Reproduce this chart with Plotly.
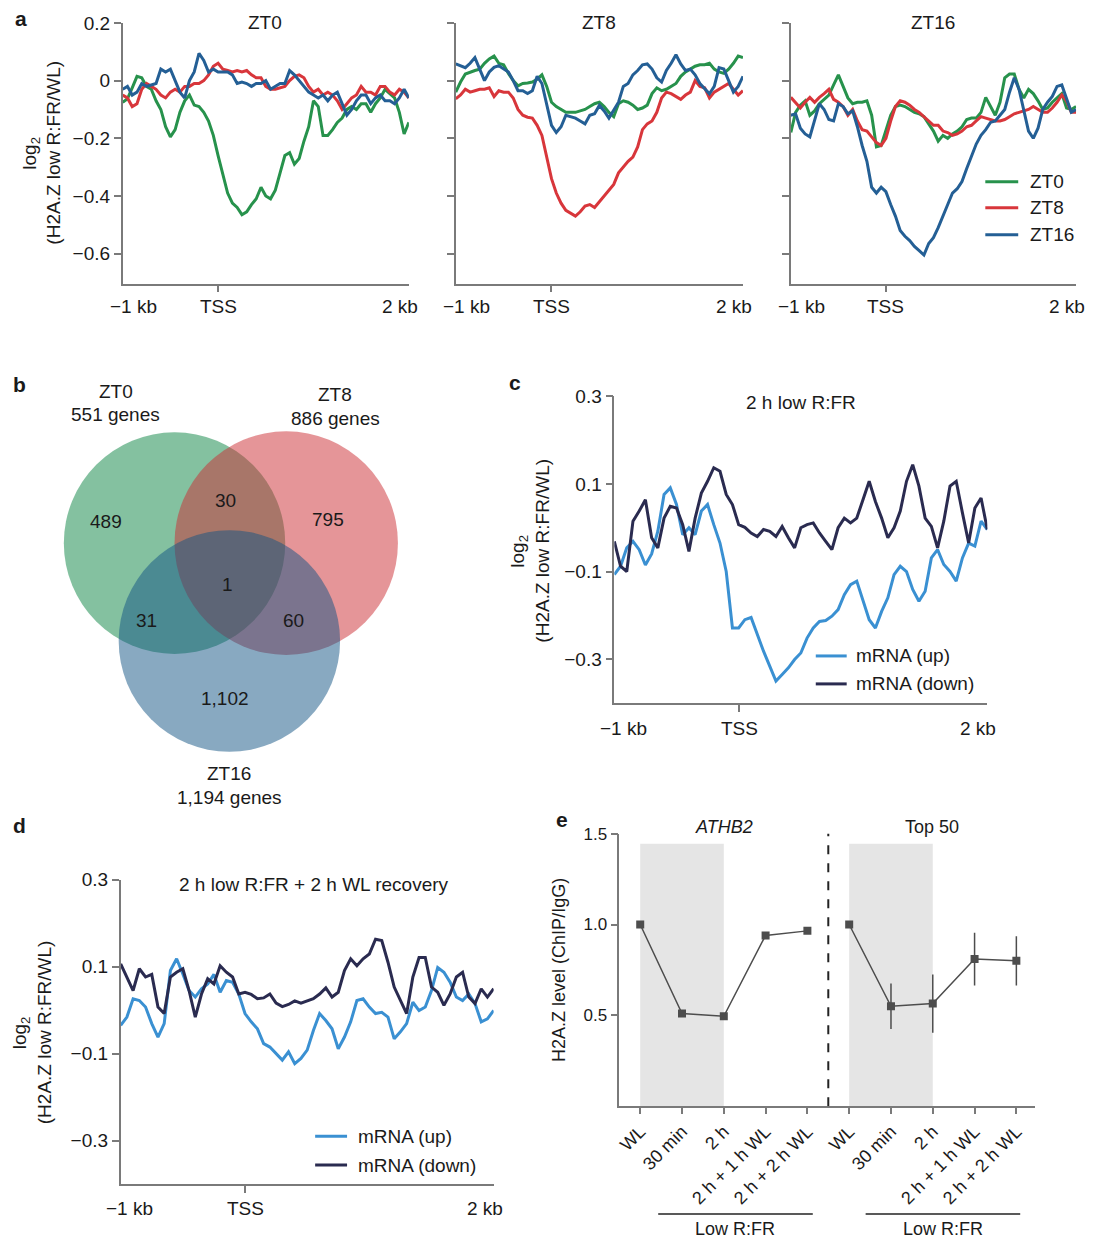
import numpy as np
import plotly.graph_objects as go

W, H = 1098, 1241
# vertical placement calibrated against the rendered page (top offset ~8 px)
def fx(p): return p / W
def fy(p): return 1 - (p - 8) / 1233

FONT = "Liberation Sans, Arial, Helvetica, sans-serif"
AX = "#7a7a7a"
TXT = "#1a1a1a"

# ---------------- data ----------------
pos_kb = np.round(np.linspace(-1.0, 2.0, 61), 3)   # profile bins, -1 kb .. 2 kb

# panel a, ZT0 gene set
a0_zt0 = [-0.075,-0.063,-0.025,0.015,0.01,-0.02,-0.03,-0.07,-0.10,-0.16,-0.195,-0.17,-0.11,-0.07,-0.05,-0.085,-0.09,-0.11,-0.14,-0.19,
          -0.26,-0.33,-0.39,-0.425,-0.44,-0.465,-0.455,-0.43,-0.41,-0.37,-0.40,-0.41,-0.38,-0.32,-0.26,-0.25,-0.29,-0.27,-0.21,-0.16,
          -0.07,-0.09,-0.19,-0.19,-0.17,-0.145,-0.13,-0.10,-0.09,-0.10,-0.08,-0.08,-0.11,-0.08,-0.06,-0.03,-0.045,-0.06,-0.11,-0.185,-0.145]
a0_zt8 = [-0.05,-0.06,-0.09,-0.08,-0.03,-0.01,-0.02,-0.03,-0.05,-0.06,-0.04,-0.03,-0.04,-0.02,-0.02,-0.01,-0.01,0.0,0.02,0.05,
          0.06,0.04,0.035,0.03,0.035,0.03,0.035,0.02,0.01,0.01,-0.02,-0.03,-0.03,-0.025,-0.02,0.0,0.015,0.02,0.01,-0.02,
          -0.04,-0.03,-0.05,-0.04,-0.05,-0.07,-0.1,-0.08,-0.06,-0.05,-0.02,-0.04,-0.04,-0.05,-0.02,-0.02,-0.04,-0.05,-0.03,-0.04,-0.06]
a0_zt16 = [-0.03,-0.02,-0.05,-0.04,-0.01,-0.02,-0.015,-0.01,0.04,0.03,0.04,0.0,-0.04,-0.06,0.0,0.03,0.095,0.07,0.03,0.04,
           0.03,0.03,0.03,0.02,-0.01,-0.005,-0.01,-0.02,-0.01,-0.01,0.0,-0.03,-0.02,-0.01,-0.01,0.035,0.02,0.0,-0.02,-0.04,
           -0.05,-0.06,-0.05,-0.07,-0.05,-0.04,-0.08,-0.12,-0.10,-0.07,-0.05,-0.05,-0.08,-0.06,-0.05,-0.07,-0.07,-0.08,-0.06,-0.03,-0.06]

# panel a, ZT8 gene set
a8_zt0 = [-0.04,-0.005,0.023,0.03,0.035,0.04,0.06,0.075,0.085,0.06,0.055,0.025,0.0,-0.018,-0.01,-0.008,-0.005,0.005,0.02,-0.02,
          -0.075,-0.09,-0.10,-0.11,-0.11,-0.11,-0.105,-0.10,-0.09,-0.08,-0.075,-0.09,-0.11,-0.125,-0.08,-0.07,-0.075,-0.085,-0.1,-0.095,
          -0.085,-0.045,-0.025,-0.035,-0.03,-0.02,-0.01,0.015,0.03,0.04,0.05,0.055,0.055,0.06,0.04,0.03,0.025,0.04,0.06,0.085,0.08]
a8_zt8 = [-0.063,-0.05,-0.03,-0.04,-0.035,-0.03,-0.03,-0.025,-0.055,-0.035,-0.04,-0.04,-0.06,-0.10,-0.12,-0.127,-0.13,-0.155,-0.19,-0.26,
          -0.34,-0.39,-0.425,-0.45,-0.46,-0.47,-0.455,-0.435,-0.43,-0.44,-0.42,-0.40,-0.38,-0.36,-0.32,-0.30,-0.28,-0.265,-0.23,-0.17,
          -0.15,-0.14,-0.11,-0.06,-0.04,-0.045,-0.055,-0.065,-0.05,-0.04,0.0,-0.02,-0.025,-0.06,-0.04,-0.03,-0.02,-0.01,-0.03,-0.05,-0.035]
a8_zt16 = [0.058,0.052,0.045,0.06,0.08,0.04,0.0,0.03,0.046,0.052,0.04,0.03,0.0,-0.035,-0.035,-0.045,-0.035,0.015,-0.01,-0.08,
           -0.155,-0.18,-0.16,-0.12,-0.125,-0.13,-0.14,-0.15,-0.12,-0.115,-0.086,-0.105,-0.13,-0.1,-0.075,-0.02,-0.01,0.02,0.035,0.055,
           0.058,0.04,0.01,-0.005,0.035,0.06,0.09,0.058,0.035,0.04,0.02,-0.01,-0.03,-0.046,-0.02,0.045,0.04,0.0,-0.04,-0.02,0.015]

# panel a, ZT16 gene set
a16_zt0 = [-0.18,-0.11,-0.085,-0.07,-0.12,-0.105,-0.08,-0.065,-0.05,-0.015,0.02,-0.02,-0.06,-0.08,-0.075,-0.075,-0.07,-0.12,-0.23,-0.225,
           -0.17,-0.12,-0.09,-0.085,-0.09,-0.1,-0.11,-0.115,-0.125,-0.15,-0.175,-0.21,-0.19,-0.2,-0.185,-0.175,-0.16,-0.135,-0.13,-0.13,
           -0.11,-0.058,-0.09,-0.12,-0.075,0.01,0.023,0.023,-0.03,-0.06,-0.03,-0.045,-0.07,-0.1,-0.095,-0.075,-0.06,-0.045,-0.095,-0.1,-0.09]
a16_zt8 = [-0.058,-0.075,-0.095,-0.075,-0.058,-0.075,-0.058,-0.045,-0.03,-0.065,-0.075,-0.09,-0.12,-0.1,-0.14,-0.17,-0.175,-0.195,-0.215,-0.225,
           -0.2,-0.14,-0.09,-0.07,-0.075,-0.085,-0.1,-0.11,-0.125,-0.14,-0.155,-0.155,-0.175,-0.18,-0.19,-0.185,-0.175,-0.16,-0.155,-0.14,
           -0.125,-0.13,-0.135,-0.14,-0.14,-0.135,-0.125,-0.115,-0.11,-0.105,-0.1,-0.09,-0.1,-0.11,-0.11,-0.095,-0.075,-0.05,-0.07,-0.11,-0.11]
a16_zt16 = [-0.12,-0.115,-0.165,-0.185,-0.195,-0.14,-0.08,-0.1,-0.135,-0.14,-0.08,-0.09,-0.115,-0.105,-0.16,-0.225,-0.28,-0.37,-0.39,-0.37,
            -0.385,-0.43,-0.47,-0.52,-0.54,-0.555,-0.575,-0.59,-0.605,-0.565,-0.545,-0.51,-0.47,-0.425,-0.39,-0.375,-0.35,-0.305,-0.26,-0.22,
            -0.19,-0.17,-0.145,-0.14,-0.12,-0.1,-0.04,0.01,-0.03,-0.1,-0.175,-0.2,-0.165,-0.1,-0.075,-0.055,-0.02,-0.015,-0.065,-0.11,-0.1]

# panel c (2 h low R:FR)
c_up = [-0.107,-0.088,-0.046,-0.031,-0.05,-0.085,-0.06,-0.008,0.076,0.091,0.053,-0.016,0.0,-0.016,0.038,0.053,0.007,-0.035,-0.1,-0.229,
        -0.229,-0.21,-0.205,-0.244,-0.282,-0.316,-0.35,-0.335,-0.32,-0.301,-0.286,-0.252,-0.229,-0.214,-0.212,-0.202,-0.187,-0.153,-0.13,-0.122,
        -0.168,-0.21,-0.229,-0.191,-0.16,-0.107,-0.088,-0.1,-0.141,-0.168,-0.145,-0.069,-0.05,-0.084,-0.1,-0.122,-0.069,-0.035,-0.042,0.015,-0.004]
c_down = [-0.031,-0.088,-0.1,0.015,0.038,0.064,-0.023,-0.046,0.022,0.049,0.045,0.007,-0.054,0.022,0.079,0.106,0.137,0.129,0.076,0.053,
          0.007,0.001,-0.012,-0.02,-0.004,-0.008,-0.02,0.003,-0.023,-0.046,0.0,0.007,0.011,-0.012,-0.031,-0.05,0.0,0.022,0.011,0.022,
          0.064,0.106,0.06,0.022,-0.023,0.0,0.038,0.106,0.144,0.095,0.022,0.003,-0.046,0.015,0.095,0.106,0.034,-0.035,0.045,0.068,-0.004]

# panel d (2 h low R:FR + 2 h WL recovery)
d_up = [-0.035,-0.016,0.026,0.022,0.007,-0.031,-0.062,-0.031,0.091,0.118,0.083,0.045,0.03,0.049,0.06,0.082,0.041,0.068,0.064,0.037,
        -0.008,-0.027,-0.043,-0.077,-0.085,-0.1,-0.115,-0.096,-0.123,-0.111,-0.092,-0.047,-0.008,-0.024,-0.043,-0.089,-0.062,-0.027,0.022,0.026,
        0.007,-0.008,-0.005,-0.016,-0.066,-0.05,-0.031,0.018,-0.001,0.007,0.045,0.098,0.087,0.064,0.03,0.022,0.037,0.015,-0.027,-0.02,-0.001]
d_down = [0.106,0.076,0.045,0.095,0.076,0.082,0.007,-0.008,0.076,0.087,0.095,0.045,-0.016,0.037,0.072,0.06,0.102,0.087,0.076,0.037,
          0.041,0.036,0.026,0.028,0.037,0.016,0.008,0.013,0.021,0.016,0.021,0.026,0.037,0.051,0.03,0.041,0.091,0.118,0.102,0.118,
          0.129,0.163,0.16,0.11,0.053,0.022,-0.008,0.076,0.121,0.121,0.053,0.041,0.011,0.037,0.076,0.087,0.03,0.015,0.049,0.03,0.049]

# panel b (Venn)
venn_names = ["ZT0", "ZT8", "ZT16"]
venn_totals = [551, 886, 1194]
venn_only = [489, 795, 1102]          # ZT0 only, ZT8 only, ZT16 only
venn_pairs = [30, 31, 60]             # ZT0&ZT8, ZT0&ZT16, ZT8&ZT16
venn_all = 1

# panel e
e_labels = ["WL", "30 min", "2 h", "2 h + 1 h WL", "2 h + 2 h WL"]
athb2 = [1.0, 0.51, 0.495, 0.94, 0.965]
top50 = [1.0, 0.55, 0.565, 0.81, 0.80]
top50_err = [0.0, 0.125, 0.16, 0.145, 0.135]

# ---------------- styles ----------------
C_ZT0 = "#27924c"
C_ZT8 = "#d8363b"
C_ZT16 = "#245f95"
C_UP = "#3a90d2"
C_DOWN = "#2a2b50"
FS = 19

fig = go.Figure()

def ax(size=FS, **kw):
    d = dict(showline=True, linecolor=AX, linewidth=1.5, ticks="outside", tickcolor=AX,
             tickwidth=1.5, ticklen=7, showgrid=False, zeroline=False,
             tickfont=dict(size=size, color=TXT, family=FONT))
    d.update(kw)
    return d

layout = dict(width=W, height=H, margin=dict(l=0, r=0, t=0, b=0),
              paper_bgcolor="white", plot_bgcolor="white", showlegend=False,
              font=dict(family=FONT, color=TXT, size=FS))

# panel a axes
a_left = [120, 454, 790]
a_right = [407, 742, 1076]
a_top, a_bot = 21, 282
a_yvals = [-0.6, -0.4, -0.2, 0, 0.2]
a_ytext = ["\u22120.6", "\u22120.4", "\u22120.2", "0", "0.2"]
for i in range(3):
    n = "" if i == 0 else str(i + 1)
    layout["xaxis" + n] = ax(domain=[fx(a_left[i]), fx(a_right[i])], range=[-1, 2], anchor="y" + n,
                             tickvals=[0], showticklabels=False)
    layout["yaxis" + n] = ax(domain=[fy(a_bot), fy(a_top)], range=[-0.704, 0.2], anchor="x" + n,
                             tickvals=a_yvals, ticktext=a_ytext, showticklabels=(i == 0))

a_sets = [(a0_zt0, a0_zt8, a0_zt16), (a8_zt0, a8_zt8, a8_zt16), (a16_zt0, a16_zt8, a16_zt16)]
for i, (g, r, b) in enumerate(a_sets):
    n = "" if i == 0 else str(i + 1)
    for ys, col in ((g, C_ZT0), (r, C_ZT8), (b, C_ZT16)):
        fig.add_trace(go.Scatter(x=pos_kb, y=ys, mode="lines", line=dict(color=col, width=3),
                                 xaxis="x" + n, yaxis="y" + n, hoverinfo="skip"))

# venn axis (pixel-like coordinates)
layout["xaxis4"] = dict(domain=[0, fx(420)], range=[0, 420], visible=False, anchor="y4")
layout["yaxis4"] = dict(domain=[fy(810), fy(370)], range=[810, 370], visible=False, anchor="x4")

# panel c/d axes
cd_y = [-0.3, -0.1, 0.1, 0.3]
cd_t = ["\u22120.3", "\u22120.1", "0.1", "0.3"]
layout["xaxis5"] = ax(domain=[fx(613), fx(987)], range=[-1, 2], anchor="y5", tickvals=[0], showticklabels=False)
layout["yaxis5"] = ax(domain=[fy(702), fy(395)], range=[-0.4, 0.3], anchor="x5", tickvals=cd_y, ticktext=cd_t)
layout["xaxis6"] = ax(domain=[fx(118), fx(492)], range=[-1, 2], anchor="y6", tickvals=[0], showticklabels=False)
layout["yaxis6"] = ax(domain=[fy(1184), fy(879)], range=[-0.4, 0.3], anchor="x6", tickvals=cd_y, ticktext=cd_t)

for ys, col, n in ((c_up, C_UP, "5"), (c_down, C_DOWN, "5"), (d_up, C_UP, "6"), (d_down, C_DOWN, "6")):
    fig.add_trace(go.Scatter(x=pos_kb, y=ys, mode="lines", line=dict(color=col, width=3),
                             xaxis="x" + n, yaxis="y" + n, hoverinfo="skip"))

# panel e axes
e_x = list(range(10))
layout["xaxis7"] = ax(size=18, domain=[fx(618), fx(1035)], range=[-0.5, 9.45], anchor="y7",
                      tickvals=e_x, ticktext=e_labels * 2, tickangle=-45, ticklen=6)
layout["yaxis7"] = ax(size=17, domain=[fy(1106), fy(833)], range=[0, 1.5], anchor="x7",
                      tickvals=[0.5, 1.0, 1.5], ticktext=["0.5", "1.0", "1.5"])
EC = "#4d4d4d"
fig.add_trace(go.Scatter(x=e_x[:5], y=athb2, mode="lines+markers", xaxis="x7", yaxis="y7",
                         line=dict(color=EC, width=1.5), marker=dict(symbol="square", size=8, color=EC)))
fig.add_trace(go.Scatter(x=e_x[5:], y=top50, mode="lines+markers", xaxis="x7", yaxis="y7",
                         line=dict(color=EC, width=1.5), marker=dict(symbol="square", size=8, color=EC),
                         error_y=dict(type="data", array=top50_err, color=EC, thickness=1.5, width=0)))

shapes = []
# venn circles
for (cx, cy, r, col) in ((172, 542, 111, "rgb(9,131,65)"), (284, 542, 112, "rgb(203,43,49)"),
                         (227, 640, 111, "rgb(17,83,131)")):
    shapes.append(dict(type="circle", xref="x4", yref="y4", x0=cx - r, x1=cx + r, y0=cy - r, y1=cy + r,
                       fillcolor=col, opacity=0.5, line=dict(width=0)))
# panel e shading + divider
for x0, x1 in ((0, 2), (5, 7)):
    shapes.append(dict(type="rect", xref="x7", yref="y7", x0=x0, x1=x1, y0=0, y1=1.445,
                       fillcolor="#e5e5e5", line=dict(width=0), layer="below"))
shapes.append(dict(type="line", xref="x7", yref="y7", x0=4.5, x1=4.5, y0=0, y1=1.52,
                   line=dict(color="#222222", width=2, dash="dash")))
# Low R:FR brackets
for x0, x1 in ((657, 812), (865, 1020)):
    shapes.append(dict(type="line", xref="paper", yref="paper", x0=fx(x0), x1=fx(x1), y0=fy(1214), y1=fy(1214),
                       line=dict(color="#222222", width=1.5)))
# manual legends
def leg_line(x0, x1, y, col):
    shapes.append(dict(type="line", xref="paper", yref="paper", x0=fx(x0), x1=fx(x1), y0=fy(y), y1=fy(y),
                       line=dict(color=col, width=3)))
for y, col in ((180, C_ZT0), (206, C_ZT8), (233, C_ZT16)):
    leg_line(985, 1018, y, col)
for y, col in ((655, C_UP), (683, C_DOWN)):
    leg_line(815, 846, y, col)
for y, col in ((1136, C_UP), (1165, C_DOWN)):
    leg_line(313, 345, y, col)

anns = []
def ann(x, y, text, size=FS, xanchor="center", yanchor="middle", angle=0, color=TXT, weight="normal", style="normal"):
    anns.append(dict(x=fx(x), y=fy(y), xref="paper", yref="paper", text=text, showarrow=False, textangle=angle,
                     xanchor=xanchor, yanchor=yanchor,
                     font=dict(size=size, color=color, family=FONT, weight=weight, style=style)))

# panel letters
for x, y, t in ((18, 17, "a"), (17, 383, "b"), (513, 381, "c"), (17, 825, "d"), (561, 819, "e")):
    ann(x, y, t, size=21, weight="bold")

def ytitle(x1, x2, y):
    ann(x1, y, "log<sub>2</sub>", angle=-90)
    ann(x2, y, "(H2A.Z low R:FR/WL)", angle=-90)

# panel a titles, x labels
for i, t in enumerate(["ZT0", "ZT8", "ZT16"]):
    ann((a_left[i] + a_right[i]) / 2 + (-1 if i == 0 else 0), 21, t)
    ann(a_left[i] + 11, 305, "\u22121 kb")
    ann(a_left[i] + (a_right[i] - a_left[i]) / 3, 305, "TSS")
    ann(a_right[i] - 9, 305, "2 kb")
ytitle(28, 51, 151)
for y, t in ((180, "ZT0"), (206, "ZT8"), (233, "ZT16")):
    ann(1028, y, t, xanchor="left")

# venn text
ann(113, 390, venn_names[0]); ann(113, 413, "%s genes" % format(venn_totals[0], ","))
ann(333, 393, venn_names[1]); ann(333, 417, "%s genes" % format(venn_totals[1], ","))
ann(227, 773, venn_names[2]); ann(227, 797, "%s genes" % format(venn_totals[2], ","))
for (x, y), v in zip(((103, 520), (326, 518), (223, 698)), venn_only):
    ann(x, y, format(v, ","))
for (x, y), v in zip(((223, 499), (144, 619), (291, 619)), venn_pairs):
    ann(x, y, format(v, ","))
ann(225, 583, str(venn_all))

# panel c
ann(800, 401, "2 h low R:FR")
ann(622, 728, "\u22121 kb"); ann(739, 728, "TSS"); ann(978, 728, "2 kb")
ytitle(518, 541, 550)
ann(853, 655, "mRNA (up)", xanchor="left"); ann(853, 683, "mRNA (down)", xanchor="left")

# panel d
ann(312, 884, "2 h low R:FR + 2 h WL recovery")
ann(127, 1208, "\u22121 kb"); ann(243, 1208, "TSS"); ann(483, 1208, "2 kb")
ytitle(18, 41, 1032)
ann(354, 1136, "mRNA (up)", xanchor="left"); ann(354, 1165, "mRNA (down)", xanchor="left")

# panel e
ann(723, 826, "ATHB2", size=18, style="italic")
ann(932, 826, "Top 50", size=18)
ann(558, 969, "H2A.Z level (ChIP/IgG)", size=18, angle=-90)
ann(734, 1229, "Low R:FR", size=18); ann(943, 1229, "Low R:FR", size=18)

layout["shapes"] = shapes
layout["annotations"] = anns
fig.update_layout(**layout)
fig.write_html("out.html")
